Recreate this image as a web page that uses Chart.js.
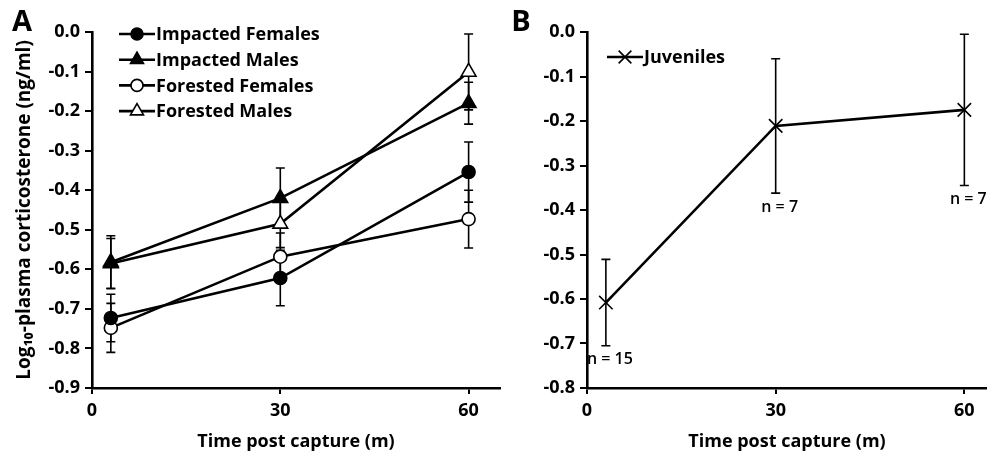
<!DOCTYPE html>
<html><head><meta charset="utf-8">
<script src="https://cdn.jsdelivr.net/npm/chart.js@4.4.1/dist/chart.umd.min.js"></script>
<style>
html,body{margin:0;padding:0;background:#fff;width:987px;height:455px;overflow:hidden}
canvas{position:absolute;top:0}
#ca{left:0;width:510px;height:455px}
#cb{left:505px;width:482px;height:455px}
</style></head><body>
<canvas id="ca" width="510" height="455"></canvas>
<canvas id="cb" width="482" height="455"></canvas>
<script>
// ---- data ----
const timesA = [3, 30, 60];
const impactedFemales = [-0.723, -0.622, -0.354];
const impactedFemalesErr = [0.060, 0.070, 0.076];
const impactedMales = [-0.582, -0.420, -0.180];
const impactedMalesErr = [0.067, 0.076, 0.053];
const forestedFemales = [-0.748, -0.568, -0.473];
const forestedFemalesErr = [0.062, 0.060, 0.073];
const forestedMales = [-0.585, -0.485, -0.101];
const forestedMalesErr = [0.063, 0.060, 0.096];

const timesB = [3, 30, 60];
const juveniles = [-0.608, -0.211, -0.175];
const juvenilesErr = [0.097, 0.151, 0.170];
const juvenileN = ['n = 15', 'n = 7', 'n = 7'];

const xTicks = [0, 30, 60];
const yTicksA = [0, -0.1, -0.2, -0.3, -0.4, -0.5, -0.6, -0.7, -0.8, -0.9];
const yTicksB = [0, -0.1, -0.2, -0.3, -0.4, -0.5, -0.6, -0.7, -0.8];
const seriesNamesA = ['Impacted Females', 'Impacted Males', 'Forested Females', 'Forested Males'];
const seriesNameB = 'Juveniles';
const xTitle = 'Time post capture (m)';
const yTitle = 'Log\u2081\u2080-plasma corticosterone (ng/ml)';

Chart.defaults.font.family = "'Open Sans', sans-serif";
Chart.defaults.font.weight = 'bold';
Chart.defaults.color = '#000';

function pts(xs, ys) { return xs.map((x, i) => ({x: x, y: ys[i]})); }

function mkDataset(label, xs, ys, errs, style, fill, radius) {
  return {
    label: label, data: pts(xs, ys), errors: errs,
    borderColor: '#000', borderWidth: 2.6,
    pointStyle: style, pointRadius: radius, pointHoverRadius: radius,
    pointBackgroundColor: fill, pointBorderColor: '#000', pointBorderWidth: 1.6,
    tension: 0, fill: false
  };
}

function drawMarker(ctx, style, fill, r, x, y) {
  ctx.save();
  ctx.fillStyle = fill; ctx.strokeStyle = '#000'; ctx.lineWidth = 1.6;
  ctx.beginPath();
  if (style === 'circle') {
    ctx.arc(x, y, r, 0, Math.PI * 2);
    ctx.fill(); ctx.stroke();
  } else if (style === 'triangle') {
    const a = -Math.PI / 2;
    for (let k = 0; k < 3; k++) {
      const ang = a + k * 2 * Math.PI / 3;
      const px = x + Math.cos(ang) * r, py = y + Math.sin(ang) * r;
      if (k === 0) ctx.moveTo(px, py); else ctx.lineTo(px, py);
    }
    ctx.closePath(); ctx.fill(); ctx.stroke();
  } else if (style === 'crossRot') {
    const d = r * Math.SQRT1_2;
    ctx.moveTo(x - d, y - d); ctx.lineTo(x + d, y + d);
    ctx.moveTo(x + d, y - d); ctx.lineTo(x - d, y + d);
    ctx.stroke();
  }
  ctx.restore();
}

const errorBars = {
  id: 'errorBars',
  beforeDatasetsDraw(chart) {
    const ctx = chart.ctx, xs = chart.scales.x, ys = chart.scales.y;
    ctx.save();
    ctx.strokeStyle = '#000'; ctx.lineWidth = 1.6;
    chart.data.datasets.forEach(ds => {
      ds.data.forEach((p, i) => {
        const e = ds.errors[i];
        const x = xs.getPixelForValue(p.x);
        const y1 = ys.getPixelForValue(p.y + e), y2 = ys.getPixelForValue(p.y - e);
        ctx.beginPath();
        ctx.moveTo(x, y1); ctx.lineTo(x, y2);
        ctx.moveTo(x - 4.5, y1); ctx.lineTo(x + 4.5, y1);
        ctx.moveTo(x - 4.5, y2); ctx.lineTo(x + 4.5, y2);
        ctx.stroke();
      });
    });
    ctx.restore();
  }
};

function legendPlugin(x0, y0, dy) {
  return {
    id: 'customLegend',
    afterDraw(chart) {
      const ctx = chart.ctx;
      chart.data.datasets.forEach((ds, i) => {
        const y = y0 + i * dy;
        ctx.save();
        ctx.strokeStyle = '#000'; ctx.lineWidth = 2.6;
        ctx.beginPath(); ctx.moveTo(x0, y); ctx.lineTo(x0 + 36, y); ctx.stroke();
        ctx.restore();
        drawMarker(ctx, ds.pointStyle, ds.pointBackgroundColor, ds.legendRadius, x0 + 18, y);
        ctx.save();
        ctx.fillStyle = '#000'; ctx.font = "bold 18px 'Open Sans', sans-serif";
        ctx.textBaseline = 'middle'; ctx.textAlign = 'left';
        ctx.fillText(ds.label, x0 + 37, y + 1);
        ctx.restore();
      });
    }
  };
}

function panelLetter(letter, x, y) {
  return {
    id: 'panelLetter',
    afterDraw(chart) {
      const ctx = chart.ctx;
      ctx.save();
      ctx.fillStyle = '#000'; ctx.font = "bold 29px 'Open Sans', sans-serif";
      ctx.textAlign = 'center'; ctx.textBaseline = 'middle';
      ctx.fillText(letter, x, y);
      ctx.restore();
    }
  };
}

const nLabels = {
  id: 'nLabels',
  afterDatasetsDraw(chart) {
    const ctx = chart.ctx, xs = chart.scales.x, ys = chart.scales.y;
    const ds = chart.data.datasets[0];
    ctx.save();
    ctx.fillStyle = '#000'; ctx.font = "600 16px 'Open Sans', sans-serif";
    ctx.textAlign = 'center'; ctx.textBaseline = 'middle';
    ds.data.forEach((p, i) => {
      const x = xs.getPixelForValue(p.x);
      const y = ys.getPixelForValue(p.y - ds.errors[i]);
      ctx.fillText(juvenileN[i], x + 4, y + 14);
    });
    ctx.restore();
  }
};

function scalesFor(yTicks, ymin, xmax, yW, withTitle) {
  return {
    x: {
      type: 'linear', min: 0, max: xmax,
      afterBuildTicks: s => { s.ticks = xTicks.map(v => ({value: v})); },
      afterFit: s => { s.height = 67; s.paddingRight = 0; s.paddingLeft = 0; },
      ticks: { font: {size: 18, weight: 'bold'}, padding: 6, callback: v => String(v), maxRotation: 0 },
      grid: { display: true, drawOnChartArea: false, drawTicks: true, tickLength: 6, color: '#000', lineWidth: 2 },
      border: { display: true, color: '#000', width: 2.6 },
      title: { display: true, text: xTitle, font: {size: 18, weight: 'bold'}, padding: {top: 0, bottom: 2} }
    },
    y: {
      type: 'linear', min: ymin, max: 0,
      afterBuildTicks: s => { s.ticks = yTicks.map(v => ({value: v})); },
      afterFit: s => { s.width = yW; },
      ticks: { font: {size: 18, weight: 'bold'}, padding: 5, callback: v => v.toFixed(1) },
      grid: { display: true, drawOnChartArea: false, drawTicks: true, tickLength: 7, color: '#000', lineWidth: 2 },
      border: { display: true, color: '#000', width: 2.6 },
      title: { display: withTitle, text: yTitle, font: {size: 19, weight: 'bold'}, padding: {top: 13, bottom: 0} }
    }
  };
}

const dsA = [
  mkDataset(seriesNamesA[0], timesA, impactedFemales, impactedFemalesErr, 'circle', '#000', 6.5),
  mkDataset(seriesNamesA[1], timesA, impactedMales, impactedMalesErr, 'triangle', '#000', 8.5),
  mkDataset(seriesNamesA[2], timesA, forestedFemales, forestedFemalesErr, 'circle', '#fff', 6.5),
  mkDataset(seriesNamesA[3], timesA, forestedMales, forestedMalesErr, 'triangle', '#fff', 8.5)
];
dsA.forEach(d => { d.legendRadius = d.pointStyle === 'circle' ? 6 : 7.5; });

new Chart(document.getElementById('ca'), {
  type: 'line',
  data: { datasets: dsA },
  options: {
    responsive: false, animation: false, devicePixelRatio: 1,
    layout: { autoPadding: false, padding: {top: 32, right: 10, bottom: 0, left: 0} },
    plugins: { legend: {display: false}, tooltip: {enabled: false} },
    scales: scalesFor(yTicksA, -0.9, 65, 92, true)
  },
  plugins: [errorBars, legendPlugin(119, 34, 25.7), panelLetter('A', 22, 23)]
});

const dsB = [mkDataset(seriesNameB, timesB, juveniles, juvenilesErr, 'crossRot', '#000', 9.5)];
dsB[0].legendRadius = 9;

new Chart(document.getElementById('cb'), {
  type: 'line',
  data: { datasets: dsB },
  options: {
    responsive: false, animation: false, devicePixelRatio: 1,
    layout: { autoPadding: false, padding: {top: 32, right: 0, bottom: 0, left: 0} },
    plugins: { legend: {display: false}, tooltip: {enabled: false} },
    scales: scalesFor(yTicksB, -0.8, 63.6, 82, false)
  },
  plugins: [errorBars, nLabels, legendPlugin(102, 57, 26), panelLetter('B', 16, 23)]
});
</script>
</body></html>
